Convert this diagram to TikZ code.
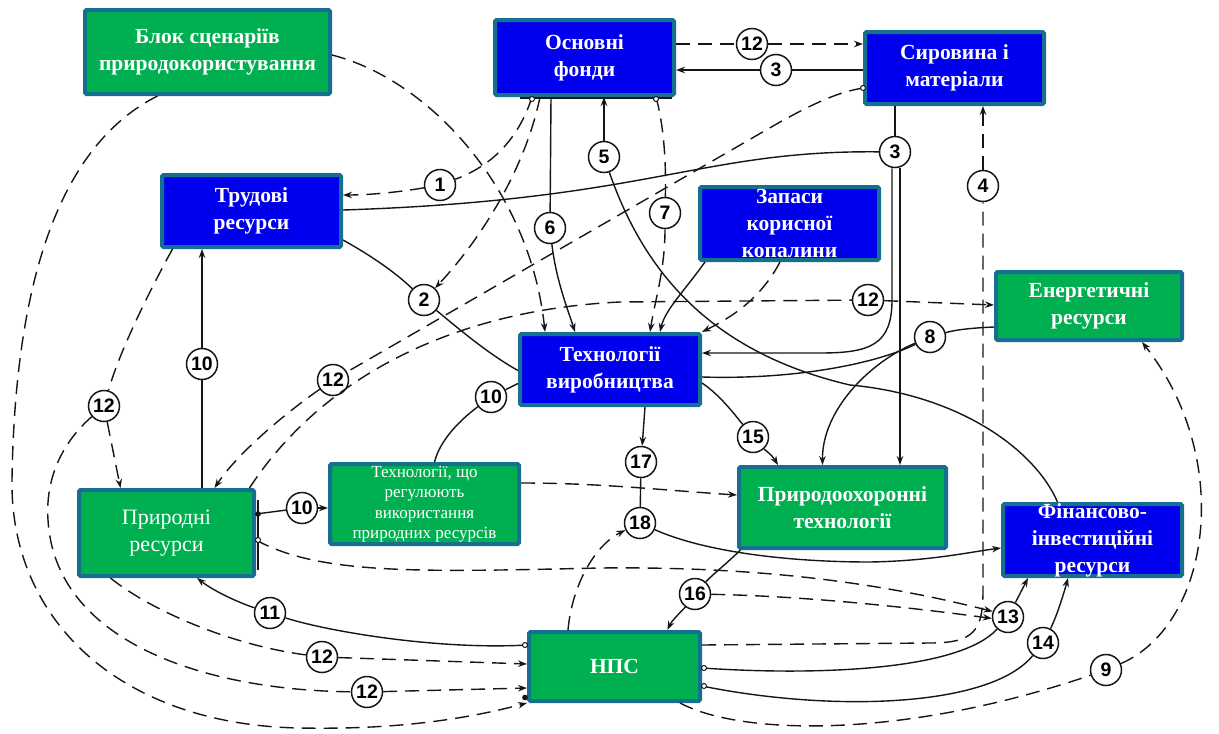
\documentclass[tikz,border=0pt]{standalone}
\usepackage{fontspec}
\setmainfont{Liberation Serif}
\newfontfamily\numfont{Liberation Sans}
\usetikzlibrary{arrows.meta,calc}
\definecolor{gr}{HTML}{00B050}
\definecolor{bl}{HTML}{0000EE}
\definecolor{bd}{HTML}{15708F}
\definecolor{ink}{HTML}{161616}
\begin{document}
\begin{tikzpicture}[x=1pt,y=-1pt,
 box/.style={draw=bd,line width=4pt,rounded corners=1.5pt,inner sep=0pt},
 gbox/.style={box,fill=gr},
 bbox/.style={box,fill=bl},
 btxt/.style={text=white,align=center,inner sep=0pt,font=\fontsize{21.5}{27}\selectfont\bfseries},
 rtxt/.style={text=white,align=center,inner sep=0pt,font=\fontsize{22}{27}\selectfont},
 stxt/.style={text=white,align=center,inner sep=0pt,font=\fontsize{17}{20.5}\selectfont},
 num/.style={circle,draw=ink,line width=1.5pt,fill=white,minimum size=31pt,inner sep=0pt,font=\numfont\fontsize{19.5}{19.5}\selectfont\bfseries},
 ln/.style={draw=ink,line width=1.4pt},
 dl/.style={ln,dash pattern=on 14pt off 8pt},
 arr/.style={-{Stealth[length=9pt,width=6.5pt]}},
 port/.style={draw=ink,line width=1pt,fill=white}
]
\fill[white] (0,0) rectangle (1219,734);
\useasboundingbox (0,0) rectangle (1219,734);

% boxes
\node[gbox,minimum width=245pt,minimum height=84pt] (blok) at (207.5,52) {};
\node[btxt] (blokT) at (blok) {Блок сценаріїв\\природокористування};
\node[bbox,minimum width=179pt,minimum height=75pt] (osn) at (584.5,57.5) {};
\node[btxt] (osnT) at (osn) {Основні\\фонди};
\node[bbox,minimum width=179pt,minimum height=72pt] (syr) at (954.5,68) {};
\node[btxt] (syrT) at (syr) {Сировина і\\матеріали};
\node[bbox,minimum width=179pt,minimum height=72pt] (trud) at (251.5,211) {};
\node[btxt] (trudT) at (trud) {Трудові\\ресурси};
\node[bbox,minimum width=179pt,minimum height=73pt] (zap) at (789.5,223.5) {};
\node[btxt] (zapT) at (zap) {Запаси\\корисної\\копалини};
\node[gbox,minimum width=186pt,minimum height=68pt] (energ) at (1089,306) {};
\node[btxt] (energT) at (energ) {Енергетичні\\ресурси};
\node[bbox,minimum width=180pt,minimum height=71pt] (tech) at (610,369.5) {};
\node[btxt] (techT) at (tech) {Технології\\виробництва};
\node[gbox,minimum width=175pt,minimum height=86pt] (pryr) at (166.5,533) {};
\node[rtxt] (pryrT) at (pryr) {Природні\\ресурси};
\node[gbox,minimum width=189pt,minimum height=80pt] (treg) at (424.5,504) {};
\node[stxt] (tregT) at (treg) {Технології, що\\регулюють\\використання\\природних ресурсів};
\node[gbox,minimum width=207pt,minimum height=81pt] (pzt) at (842.5,507.5) {};
\node[btxt] (pztT) at (pzt) {Природоохоронні\\технології};
\node[bbox,minimum width=179pt,minimum height=72pt] (fin) at (1092.5,540) {};
\node[btxt] (finT) at (fin) {Фінансово-\\інвестиційні\\ресурси};
\node[gbox,minimum width=171pt,minimum height=69pt] (nps) at (614.5,666.5) {};
\node[btxt] (npsT) at (nps) {НПС};

% numbered circles
\node[num] (c12a) at (752,44) {12};
\node[num] (c3a) at (776,70) {3};
\node[num] (c1) at (440,185) {1};
\node[num] (c3b) at (895,152) {3};
\node[num] (c4) at (983,186) {4};
\node[num] (c5) at (604,157) {5};
\node[num] (c6) at (550,228) {6};
\node[num] (c7) at (665,213) {7};
\node[num] (c2) at (424,300) {2};
\node[num] (c12d) at (868,300) {12};
\node[num] (c8) at (930,337) {8};
\node[num] (c10a) at (202,364) {10};
\node[num] (c12c) at (333,380) {12};
\node[num] (c10b) at (491,397) {10};
\node[num] (c12b) at (104,406) {12};
\node[num] (c15) at (753,437) {15};
\node[num] (c17) at (641,462) {17};
\node[num] (c10c) at (302,508) {10};
\node[num] (c18) at (640,523) {18};
\node[num] (c16) at (695,594) {16};
\node[num] (c11) at (270,613) {11};
\node[num] (c13) at (1008,617) {13};
\node[num] (c14) at (1043,643) {14};
\node[num] (c12e) at (322,657) {12};
\node[num] (c9) at (1106,670) {9};
\node[num] (c12f) at (367,692) {12};

% top pair
\draw[dl] (osn.east |- c12a) -- (c12a);
\draw[dl,arr] (c12a) -- (syr.west |- c12a);
\draw[ln] (syr.west |- c3a) -- (c3a);
\draw[ln,arr] (c3a) -- (osn.east |- c3a);

% from Основні фонди
\draw[ln] ([xshift=-65pt,yshift=-1pt]osn.south) -- ([xshift=87pt,yshift=-1pt]osn.south);
\draw[dl] ([xshift=-52.5pt]osn.south) .. controls (515,150) and (480,170) .. (c1);
\draw[dl,arr] (c1) .. controls (400,192) and (370,195) .. ([yshift=16pt]trud.east);
\draw[dl,arr] ([xshift=-44.5pt]osn.south) .. controls (525,170) and (480,240) .. (c2);
\draw[ln] ([xshift=-33.5pt]osn.south) -- (c6);
\draw[ln,arr] (c6) .. controls (556,280) and (568,310) .. ([xshift=-35pt]tech.north);
\draw[ln,arr] (c5) -- (c5 |- osn.south);
\draw[ln] (c5) .. controls (640,260) and (700,350) .. (850,385) .. controls (960,395) and (1035,450) .. ([xshift=-35pt]fin.north);
\draw[dl] ([xshift=71.5pt]osn.south) .. controls (665,130) and (666,170) .. (c7);
\draw[dl,arr] (c7) .. controls (665,270) and (655,300) .. ([xshift=40pt]tech.north);

% Блок
\draw[dl,arr] ([yshift=-3pt]blok.east) .. controls (430,80) and (530,190) .. ([xshift=-65pt]tech.north);
\draw[dl,arr] ([xshift=-50pt]blok.south) .. controls (60,145) and (15,280) .. (12,480) .. controls (10,620) and (120,725) .. (300,728) .. controls (400,730) and (470,718) .. (nps.south west);

% Трудові ресурси
\draw[dl] ([xshift=-79pt]trud.south) .. controls (150,290) and (120,350) .. (c12b);
\draw[dl,arr] (c12b) -- ([xshift=-46pt]pryr.north);
\draw[dl] (c12b) .. controls (65,440) and (45,475) .. (48,520) .. controls (55,640) and (200,690) .. (c12f);
\draw[dl,arr] (c12f) -- ([yshift=-21.5pt]nps.west);
\draw[ln] ([yshift=-29pt]trud.east) .. controls (370,255) and (395,272) .. (c2);
\draw[ln] (c2) .. controls (460,330) and (490,355) .. ([yshift=-1pt]tech.west);
\draw[ln] ([xshift=35.5pt]pryr.north) -- (c10a);
\draw[ln,arr] (c10a) -- (c10a |- trud.south);

% Природні ресурси
\draw[dl] ([xshift=-56pt]pryr.south) .. controls (150,610) and (230,645) .. (c12e);
\draw[dl,arr] (c12e) -- ([yshift=2.5pt]nps.west);
\draw[ln] ([yshift=21.5pt]nps.west) .. controls (440,650) and (330,632) .. (c11);
\draw[ln,arr] (c11) .. controls (240,603) and (215,592) .. ([xshift=30.5pt]pryr.south);
\draw[ln] ([yshift=19pt]pryr.east) -- (c10c);
\draw[ln,arr] (c10c) -- (treg.west |- c10c);
\draw[ln] ([yshift=-14pt]tech.west) -- (c10b);
\draw[ln] (c10b) .. controls (460,420) and (440,440) .. ([xshift=10pt]treg.north);
\draw[dl] ([yshift=-20pt]syr.west) .. controls (840,92) and (820,100) .. (780,122) -- (c12c);
\draw[dl,arr] (c12c) .. controls (290,410) and (240,450) .. ([xshift=48pt]pryr.north);
\draw[dl] ([xshift=83pt]pryr.north) .. controls (320,380) and (450,310) .. (620,302) -- (c12d);
\draw[dl,arr] (c12d) -- ([yshift=1pt]energ.west);
\draw[dl,arr] ([yshift=-7pt]pryr.east) .. controls (320,575) and (420,572) .. (600,568) .. controls (780,566) and (900,588) .. (c13.160);

% Запаси
\draw[ln,arr] ([xshift=-84.5pt]zap.south) .. controls (685,290) and (665,310) .. ([xshift=50pt]tech.north);
\draw[dl,arr] ([xshift=-9.5pt]zap.south) .. controls (760,300) and (730,318) .. (tech.north east);

% Сировина 3
\draw[ln] ([xshift=-59.5pt]syr.south) -- (c3b);
\draw[ln] (c3b) .. controls (700,150) and (650,200) .. ([yshift=1pt]trud.east);
\coordinate (d3l) at ([xshift=-3pt]c3b.south);
\coordinate (d3r) at ([xshift=5pt]c3b.south);
\draw[ln,arr] (d3l) -- (892,300) .. controls (892,345) and (870,353) .. (820,353) -- ([yshift=16.5pt]tech.east);
\draw[ln,arr] (d3r) -- (d3r |- pzt.north);

% 8
\draw[ln] ([yshift=-21pt]energ.west) .. controls (970,328) and (955,330) .. (c8);
\draw[ln] ([yshift=-7.5pt]tech.east) .. controls (800,380) and (880,362) .. (c8);
\draw[ln,arr] (c8) .. controls (870,362) and (822,410) .. ([xshift=-20pt]pzt.north);

% 15, 17, 18
\draw[ln] ([yshift=-13.5pt]tech.east) .. controls (720,395) and (735,415) .. (c15);
\draw[ln,arr] (c15) .. controls (765,450) and (772,455) .. ([xshift=-64.5pt]pzt.north);
\draw[ln,arr] ([xshift=35pt]tech.south) -- (c17);
\draw[ln] (c17) -- (c18);
\draw[ln,arr] (c18) .. controls (700,550) and (780,562) .. (870,562) .. controls (930,561) and (970,552) .. ([yshift=-8pt]fin.west);
\draw[dl,arr] ([xshift=-46.5pt]nps.north) .. controls (572,585) and (595,545) .. (c18);
\draw[dl,arr] ([yshift=21pt]treg.east) .. controls (600,483) and (660,490) .. ([yshift=12.5pt]pzt.west);

% 16, 13, 14
\draw[ln] ([xshift=-102pt]pzt.south) .. controls (725,565) and (712,575) .. (c16);
\draw[ln,arr] (c16) .. controls (683,610) and (672,620) .. ([xshift=53pt]nps.north);
\draw[dl,arr] (c16) .. controls (800,596) and (900,606) .. (c13.185);
\draw[ln,arr] (c13) -- ([xshift=-64.5pt]fin.south);
\draw[ln] ([yshift=-1.5pt]nps.east) .. controls (820,676) and (960,670) .. (c13);
\draw[ln] ([yshift=-19.5pt]nps.east) .. controls (830,712) and (990,708) .. (c14);
\draw[ln,arr] (c14) .. controls (1055,620) and (1062,600) .. ([xshift=-24.5pt]fin.south);

% 9 and 4
\draw[dl] ([xshift=65.5pt]nps.south) .. controls (740,735) and (900,740) .. (c9);
\draw[dl,arr] (c9) .. controls (1210,625) and (1235,460) .. ([xshift=53pt]energ.south);
\draw[dl] ([yshift=21.5pt]nps.east) -- (930,643) .. controls (975,643) and (983,630) .. (983,590) -- (c4);
\draw[dl,arr] (c4) -- (c4 |- syr.south);

% ports
\draw[ln] ([xshift=2pt,yshift=33pt]pryr.east) -- ([xshift=2pt,yshift=-37pt]pryr.east);
\draw[port] ([xshift=-52.5pt,yshift=-2pt]osn.south) circle (2.5pt);
\draw[port] ([xshift=71.5pt,yshift=-2pt]osn.south) circle (2.5pt);
\draw[port] ([yshift=-20pt]syr.west) circle (2.5pt);
\draw[port,fill=ink] ([xshift=2pt,yshift=19pt]pryr.east) circle (2.3pt);
\draw[port] ([xshift=2pt,yshift=-7pt]pryr.east) circle (2.5pt);
\draw[port] ([xshift=-2pt,yshift=21.5pt]nps.west) circle (2.5pt);
\draw[port,fill=ink] ([xshift=-2pt,yshift=-31pt]nps.west) circle (2.3pt);
\draw[port] ([xshift=2pt,yshift=-1.5pt]nps.east) circle (2.5pt);
\draw[port] ([xshift=2pt,yshift=-19.5pt]nps.east) circle (2.5pt);
\end{tikzpicture}
\end{document}
